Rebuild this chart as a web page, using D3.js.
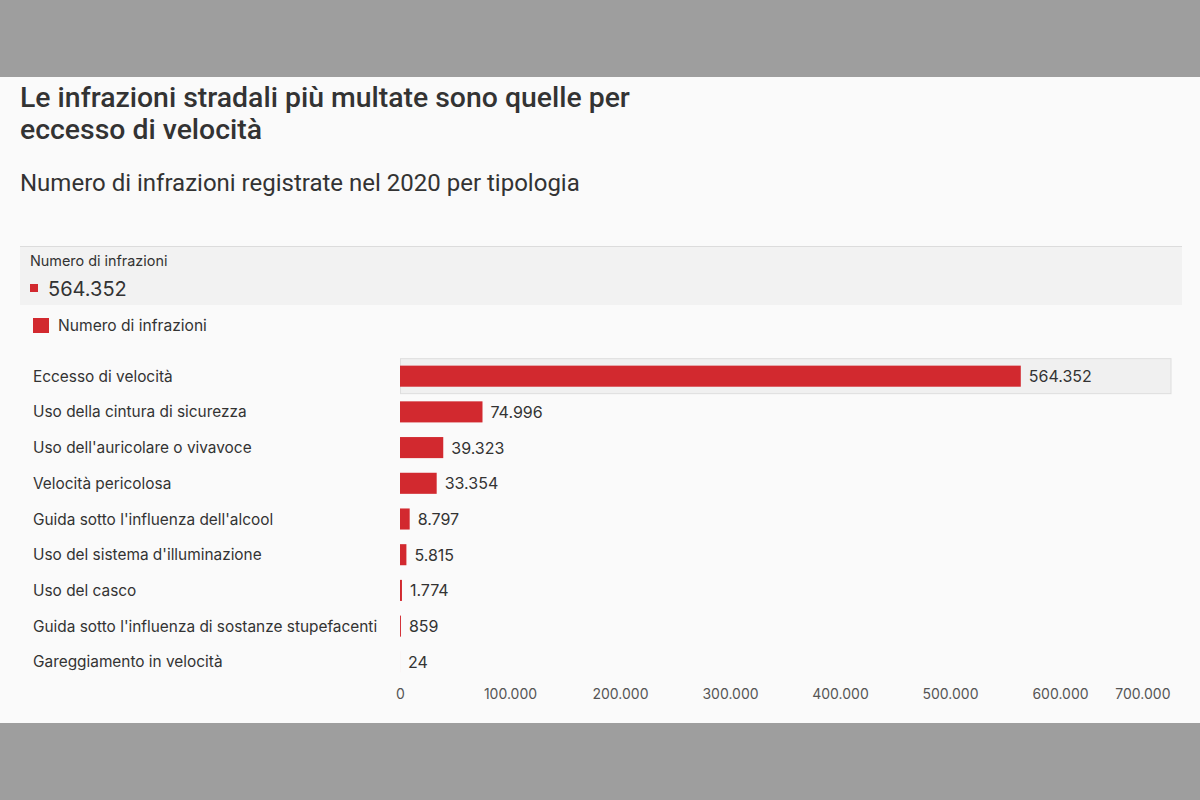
<!DOCTYPE html>
<html><head><meta charset="utf-8">
<script src="https://cdn.jsdelivr.net/npm/d3@7"></script>
<style>
body{margin:0;background:#9e9e9e;font-family:Inter,"Noto Sans",sans-serif;}
svg{display:block;}
</style></head><body>
<svg id="c" width="1200" height="800"></svg>
<script>
const categories = ["Eccesso di velocità","Uso della cintura di sicurezza","Uso dell'auricolare o vivavoce","Velocità pericolosa","Guida sotto l'influenza dell'alcool","Uso del sistema d'illuminazione","Uso del casco","Guida sotto l'influenza di sostanze stupefacenti","Gareggiamento in velocità"];
const values = [564352,74996,39323,33354,8797,5815,1774,859,24];
const tickValues = [0,100000,200000,300000,400000,500000,600000,700000];
const seriesName = "Numero di infrazioni";
const title = ["Le infrazioni stradali più multate sono quelle per","eccesso di velocità"];
const subtitle = "Numero di infrazioni registrate nel 2020 per tipologia";

const fmt = v => d3.format(",")(v).replace(/,/g,".");
const red = "#d2292f";
const svg = d3.select("#c");
svg.append("rect").attr("x",0).attr("y",77).attr("width",1200).attr("height",646).attr("fill","#fafafa");

const tg = svg.append("g").attr("fill","#333").attr("font-family","Roboto,sans-serif").attr("font-weight",500).attr("font-size",28.4);
title.forEach((t,i)=>tg.append("text").attr("x",20).attr("y",107+i*32).text(t));
svg.append("text").attr("x",20).attr("y",191).attr("font-family","Roboto,sans-serif").attr("font-size",24).attr("fill","#333").text(subtitle);

// tooltip panel
svg.append("rect").attr("x",20).attr("y",246).attr("width",1162).attr("height",59).attr("fill","#f2f2f2");
svg.append("line").attr("x1",20).attr("x2",1182).attr("y1",246.5).attr("y2",246.5).attr("stroke","#dcdcdc");
svg.append("text").attr("x",30).attr("y",266).attr("font-size",14.4).attr("fill","#333").text(seriesName);
svg.append("rect").attr("x",30).attr("y",284).attr("width",8).attr("height",8).attr("fill",red);
svg.append("text").attr("x",48).attr("y",296).attr("font-size",20).attr("fill","#333").text(fmt(values[0]));

// legend
svg.append("rect").attr("x",33).attr("y",318).attr("width",16).attr("height",15).attr("fill",red);
svg.append("text").attr("x",58).attr("y",331).attr("font-size",15.6).attr("fill","#333").text(seriesName);

const x = d3.scaleLinear().domain([0,700000]).range([400,1170]);
const y = d3.scaleBand().domain(categories).range([358.5,679.5]).paddingInner(0.41).paddingOuter(0.2);

// highlight row
svg.append("rect").attr("x",400.5).attr("y",y(categories[0])+y.bandwidth()/2-18+0.5).attr("width",770.5).attr("height",35)
  .attr("fill","#f0f0f0").attr("stroke","#dedede");

const rows = svg.append("g").selectAll("g").data(categories).join("g");
rows.append("text").attr("x",33).attr("y",c=>y(c)+y.bandwidth()/2+5.5).attr("font-size",15.4).attr("fill","#333").text(c=>c);
rows.append("rect").attr("x",x(0)).attr("y",c=>y(c)).attr("height",y.bandwidth())
  .attr("width",(c,i)=>x(values[i])-x(0)).attr("fill",red);
rows.append("text").attr("x",(c,i)=>Math.max(x(values[i]),x(0))+8).attr("y",c=>y(c)+y.bandwidth()/2+6)
  .attr("font-size",16).attr("fill","#333").text((c,i)=>fmt(values[i]));

// axis
const ax = d3.axisBottom(x).tickValues(tickValues).tickFormat(fmt).tickSize(0).tickPadding(0);
const ag = svg.append("g").attr("transform","translate(0,689)").call(ax);
ag.select(".domain").remove();
ag.selectAll("text").attr("font-family","Inter,sans-serif").attr("font-size",14).attr("fill","#555")
  .attr("text-anchor",d=>d===700000?"end":"middle");
</script></body></html>
